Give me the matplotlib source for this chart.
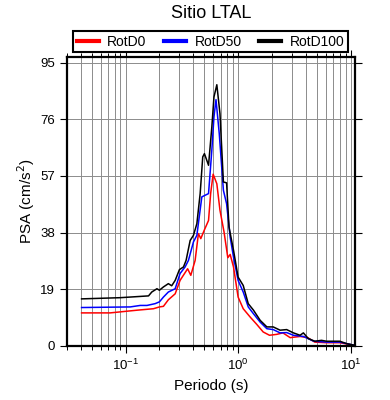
import matplotlib
matplotlib.use("Agg")
import matplotlib.pyplot as plt
from matplotlib.ticker import LogLocator, NullFormatter

plt.rcParams['font.family'] = ['Liberation Sans', 'DejaVu Sans']

# periodos (s) y PSA (cm/s2)
t_d100 = [0.0407, 0.0897, 0.160, 0.171, 0.190, 0.200, 0.217, 0.240, 0.257, 0.276,
          0.301, 0.327, 0.345, 0.375, 0.401, 0.430, 0.460, 0.485, 0.502, 0.546,
          0.584, 0.610, 0.647, 0.690, 0.740, 0.790, 0.830, 0.910, 1.00, 1.11,
          1.23, 1.37, 1.57, 1.80, 2.05, 2.36, 2.70, 3.10, 3.55, 3.80,
          4.20, 4.80, 5.50, 6.10, 8.00, 9.20, 10.9]
rotd100 = [15.8, 16.2, 16.8, 18.1, 19.2, 18.7, 19.8, 20.9, 20.2, 22.0,
           25.6, 26.5, 28.7, 35.4, 37.1, 41.0, 51.1, 63.4, 64.5, 60.6,
           73.4, 83.5, 87.6, 77.9, 55.0, 54.7, 39.9, 32.1, 23.1, 20.3,
           14.2, 12.0, 8.6, 6.4, 6.4, 5.3, 5.5, 4.4, 3.6, 4.4,
           2.5, 1.6, 1.9, 1.6, 1.6, 0.8, 0.2]

t_d50 = [0.0407, 0.110, 0.135, 0.155, 0.183, 0.200, 0.217, 0.240, 0.276, 0.305,
         0.338, 0.362, 0.401, 0.430, 0.476, 0.546, 0.584, 0.610, 0.636, 0.680,
         0.740, 0.790, 0.850, 0.910, 1.00, 1.11, 1.23, 1.37, 1.57, 1.80,
         2.05, 2.36, 2.70, 3.10, 3.80, 4.70, 6.10, 8.00, 10.9]
rotd50 = [12.9, 13.1, 13.6, 13.6, 14.2, 14.8, 16.4, 18.1, 19.2, 24.3,
          26.5, 28.7, 34.9, 37.1, 50.0, 51.1, 65.6, 76.8, 82.6, 71.2,
          52.2, 47.7, 36.5, 29.8, 22.0, 18.1, 13.1, 10.8, 8.0, 5.8,
          5.5, 4.4, 4.5, 3.6, 3.2, 1.6, 1.3, 1.3, 0.2]

t_d0 = [0.0407, 0.073, 0.126, 0.177, 0.200, 0.217, 0.240, 0.276, 0.305, 0.356,
        0.380, 0.415, 0.444, 0.466, 0.500, 0.546, 0.570, 0.600, 0.647, 0.690,
        0.750, 0.810, 0.850, 0.910, 1.00, 1.11, 1.28, 1.46, 1.67, 1.90,
        2.20, 2.50, 2.90, 3.55, 4.15, 4.80, 6.10, 8.00, 10.9]
rotd0 = [11.1, 11.1, 12.0, 12.5, 13.1, 13.3, 15.5, 17.5, 22.0, 25.9,
         23.7, 28.7, 37.7, 36.0, 38.8, 42.1, 51.1, 57.6, 54.4, 45.5,
         38.2, 29.6, 30.7, 26.5, 16.4, 12.5, 9.7, 7.3, 4.7, 3.6,
         3.9, 4.4, 2.8, 3.2, 2.8, 1.3, 1.1, 1.1, 0.2]

yticks = [0, 19, 38, 57, 76, 95]

fig = plt.figure(figsize=(3.9, 4.0), dpi=100)
ax = fig.add_axes([0.171, 0.135, 0.739, 0.7225])

ax.plot(t_d0, rotd0, color='red', lw=1.1, label='RotD0')
ax.plot(t_d50, rotd50, color='blue', lw=1.1, label='RotD50')
ax.plot(t_d100, rotd100, color='black', lw=1.1, label='RotD100')

ax.set_xscale('log')
ax.set_xlim(0.03, 10.9)
ax.set_ylim(0, 96.9)
ax.set_yticks(yticks)
ax.xaxis.set_minor_locator(LogLocator(base=10, subs=range(2, 10)))
ax.xaxis.set_minor_formatter(NullFormatter())

ax.grid(True, which='both', axis='x', color='#8c8c8c', lw=0.7)
ax.grid(True, which='major', axis='y', color='#8c8c8c', lw=0.7)
ax.set_axisbelow(True)

ax.tick_params(which='both', direction='out', top=True, right=True, labelsize=9.5)
ax.tick_params(which='major', length=5, width=0.8)
ax.tick_params(which='minor', length=3, width=0.7)
for s in ax.spines.values():
    s.set_linewidth(1.6)

ax.set_xlabel('Periodo (s)', fontsize=11)
ax.set_ylabel('PSA (cm/s$^2$)', fontsize=11, labelpad=2)
fig.text(0.541, 0.965, 'Sitio LTAL', ha='center', va='center', fontsize=13)

leg = fig.legend(loc='lower left', bbox_to_anchor=(0.188, 0.87, 0.704, 0.055),
                 mode='expand', ncol=3, fontsize=10, handlelength=1.6,
                 handletextpad=0.6, borderaxespad=0, borderpad=0.25,
                 fancybox=False, framealpha=1)
leg.get_frame().set_edgecolor('black')
leg.get_frame().set_linewidth(1.5)
for line in leg.get_lines():
    line.set_linewidth(3)

fig.savefig('out.png', dpi=100)
